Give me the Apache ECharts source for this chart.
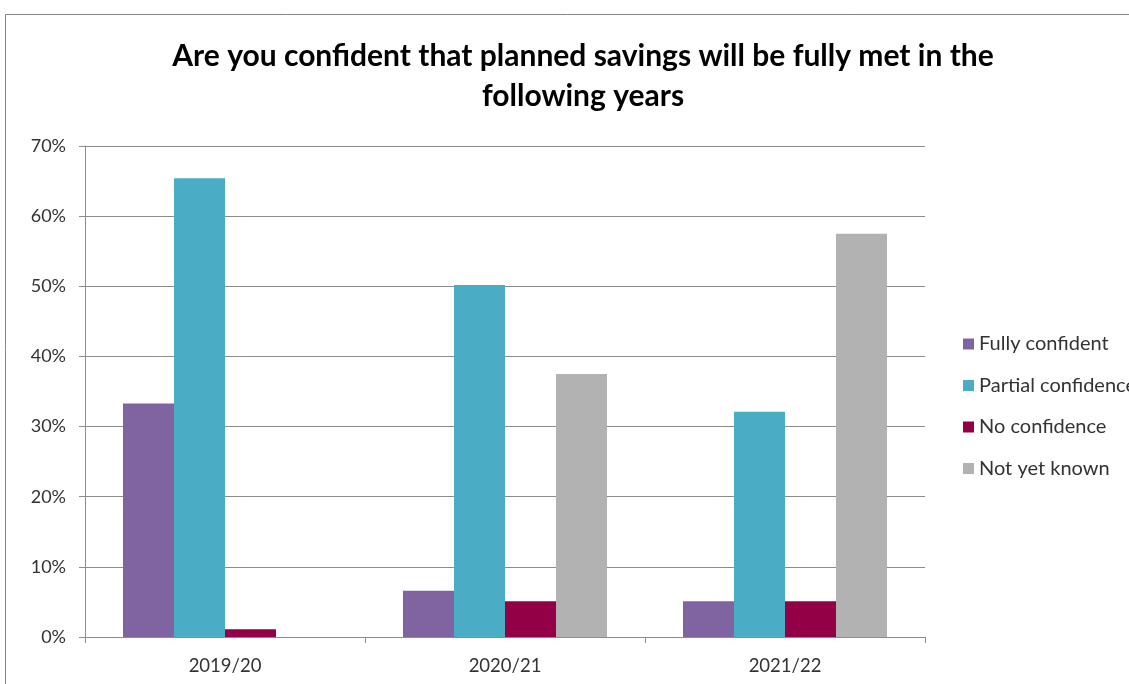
<!DOCTYPE html>
<html>
<head>
<meta charset="utf-8">
<script src="https://cdn.jsdelivr.net/npm/echarts@6/dist/echarts.min.js"></script>
<style>
  html, body { margin: 0; padding: 0; background: #fff; }
  #chart { width: 1129px; height: 684px; }
</style>
</head>
<body>
<div id="chart"></div>
<script>
const years = ['2019/20', '2020/21', '2021/22'];
const fullyConfident = [33.3, 6.6, 5.1];
const partialConfidence = [65.4, 50.2, 32.1];
const noConfidence = [1.1, 5.1, 5.1];
const notYetKnown = [0, 37.5, 57.5];
const yTicks = [0, 10, 20, 30, 40, 50, 60, 70];

const font = 'Lato, "Open Sans", sans-serif';

function bar(name, data, color) {
    return {
        name: name,
        type: 'bar',
        data: data,
        barWidth: 51,
        barGap: '0%',
        itemStyle: { color: color },
        emphasis: { disabled: true }
    };
}

const chart = echarts.init(document.getElementById('chart'));

chart.setOption({
    animation: false,
    title: {
        text: 'Are you confident that planned savings will be fully met in the\nfollowing years',
        left: 578,
        textAlign: 'center',
        top: 31,
        textStyle: {
            fontFamily: font,
            fontWeight: 'bold',
            fontSize: 30,
            lineHeight: 40,
            color: '#000'
        }
    },
    graphic: [{
        type: 'rect',
        shape: { x: 5.5, y: 14.5, width: 1200, height: 700 },
        style: { fill: 'none', stroke: '#868686', lineWidth: 1 },
        silent: true
    }],
    legend: {
        orient: 'vertical',
        left: 958,
        top: 329,
        itemWidth: 11,
        itemHeight: 11,
        itemGap: 21.5,
        icon: 'rect',
        textStyle: { fontFamily: font, fontSize: 20, color: '#333' },
        data: ['Fully confident', 'Partial confidence', 'No confidence', 'Not yet known']
    },
    grid: { left: 85, right: 204, top: 146, bottom: 47 },
    xAxis: {
        type: 'category',
        data: years,
        axisLine: { lineStyle: { color: '#8c8c8c' } },
        axisTick: { show: true, length: 6, lineStyle: { color: '#8c8c8c' } },
        axisLabel: { fontFamily: font, fontSize: 18.5, color: '#333', margin: 20 }
    },
    yAxis: {
        type: 'value',
        min: 0,
        max: 70,
        interval: 10,
        axisLine: { show: true, lineStyle: { color: '#8c8c8c' } },
        axisTick: { show: true, length: 6, lineStyle: { color: '#8c8c8c' } },
        splitLine: { lineStyle: { color: '#8c8c8c' } },
        axisLabel: {
            fontFamily: font,
            fontSize: 18,
            color: '#333',
            margin: 19,
            formatter: function (v) { return yTicks.indexOf(v) >= 0 ? v + '%' : ''; }
        }
    },
    series: [
        bar('Fully confident', fullyConfident, '#8064A2'),
        bar('Partial confidence', partialConfidence, '#4BACC6'),
        bar('No confidence', noConfidence, '#940045'),
        bar('Not yet known', notYetKnown, '#B2B2B2')
    ]
});
</script>
</body>
</html>
